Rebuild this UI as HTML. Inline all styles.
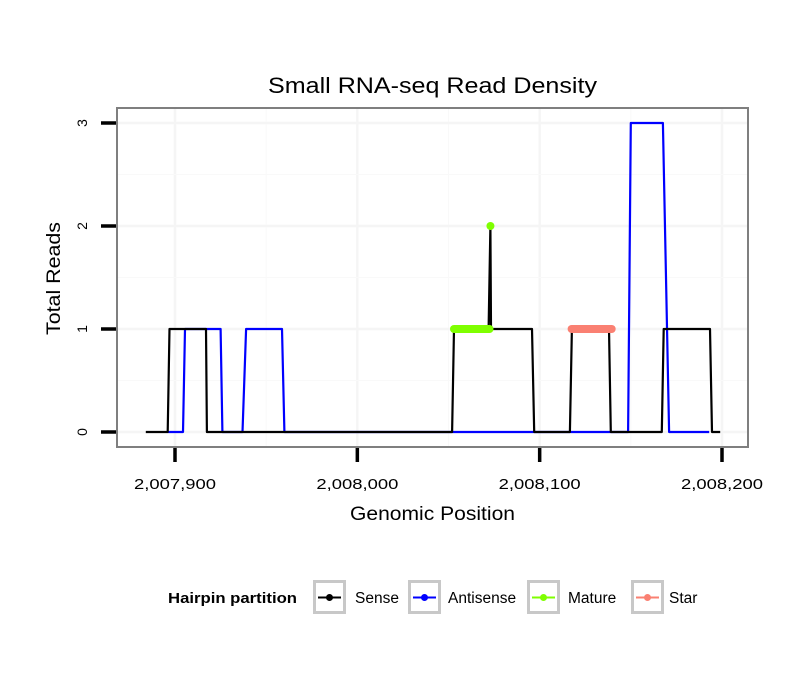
<!DOCTYPE html>
<html><head><meta charset="utf-8"><style>
body{margin:0;background:#fff;}
svg text{font-family:"Liberation Sans",sans-serif;}
</style></head><body>
<svg id="chart" width="810" height="690" xmlns="http://www.w3.org/2000/svg">
<rect width="810" height="690" fill="#fff"/>
<text x="268" y="93" font-size="22" textLength="329" lengthAdjust="spacingAndGlyphs">Small RNA-seq Read Density</text>
<g id="grid"></g>
<g id="series"></g>
<rect x="117" y="108" width="631" height="339" fill="none" stroke="#7f7f7f" stroke-width="2"/>
<g id="axes"></g>
<text x="350" y="520" font-size="19" textLength="165" lengthAdjust="spacingAndGlyphs">Genomic Position</text>
<text transform="translate(60,335) rotate(-90)" font-size="19" textLength="113" lengthAdjust="spacingAndGlyphs">Total Reads</text>
<g id="legend">
<text x="168" y="603" font-size="15" font-weight="bold" textLength="129" lengthAdjust="spacingAndGlyphs">Hairpin partition</text>
</g>
</svg>
<script>
const xTicks=[2007900,2008000,2008100,2008200];
const xTickLabels=["2,007,900","2,008,000","2,008,100","2,008,200"];
const yTicks=[0,1,2,3];
const senseX=[2007884,2007896,2007897,2007917,2007917.5,2008052,2008053,2008072,2008073,2008073.3,2008095.8,2008097,2008116.6,2008117.7,2008138,2008139,2008167,2008168,2008193.4,2008194.5,2008199];
const senseY=[0,0,1,1,0,0,1,1,2,1,1,0,0,1,1,0,0,1,1,0,0];
const antiX=[2007896,2007904.4,2007905.5,2007925,2007926,2007937,2007939,2007958.7,2007960,2008148.5,2008150,2008167.6,2008171,2008193];
const antiY=[0,0,1,1,0,0,1,1,0,0,3,3,0,0];
const matureX=[2008053,2008072.5];
const matureY=[1,1];
const maturePointX=[2008073];
const maturePointY=[2];
const starX=[2008117.5,2008139.5];
const starY=[1,1];
const legendLabels=["Sense","Antisense","Mature","Star"];
const legendColors=["#000000","#0000ff","#7fff00","#fa8072"];

const NS="http://www.w3.org/2000/svg";
const sx=v=>175+(v-2007900)*(547/300);
const sy=v=>432-v*103;
function mk(tag,attrs,parent){const e=document.createElementNS(NS,tag);for(const k in attrs)e.setAttribute(k,attrs[k]);parent.appendChild(e);return e;}
const grid=document.getElementById('grid'),series=document.getElementById('series'),axes=document.getElementById('axes'),legend=document.getElementById('legend');
[2007950,2008050,2008150].forEach(v=>{const l=mk('line',{x1:sx(v),x2:sx(v),y1:108,y2:447,stroke:'#f9f9f9','stroke-width':1},grid);});
xTicks.forEach(v=>{const l=mk('line',{x1:sx(v),x2:sx(v),y1:108,y2:447,stroke:'#f5f5f5','stroke-width':2.5},grid);});
[0.5,1.5,2.5].forEach(v=>{const l=mk('line',{x1:117,x2:748,y1:sy(v),y2:sy(v),stroke:'#f9f9f9','stroke-width':1},grid);});
yTicks.forEach(v=>{const l=mk('line',{x1:117,x2:748,y1:sy(v),y2:sy(v),stroke:'#f5f5f5','stroke-width':2.5},grid);});
function path(xs,ys,color,w,name,cap){const d=xs.map((x,i)=>(i?'L':'M')+sx(x).toFixed(1)+','+sy(ys[i]).toFixed(1)).join('');const p=mk('path',{d:d,fill:'none',stroke:color,'stroke-width':w,'stroke-linecap':cap||'butt','stroke-linejoin':'round'},series);}
path(antiX,antiY,'#0000ff',2.2,'antisense-line');
path(senseX,senseY,'#000000',2.2,'sense-line');
path(matureX,matureY,'#7fff00',8,'mature-line','round');
path(starX,starY,'#fa8072',8,'star-line','round');
maturePointX.forEach((x,i)=>{const c=mk('circle',{cx:sx(x),cy:sy(maturePointY[i]),r:4,fill:'#7fff00'},series);});
xTicks.forEach((v,i)=>{const t=mk('line',{x1:sx(v),x2:sx(v),y1:448,y2:462,stroke:'#000','stroke-width':3.5},axes);
const tx=mk('text',{x:sx(v)-41,y:489,'font-size':15,textLength:82,lengthAdjust:'spacingAndGlyphs'},axes);tx.textContent=xTickLabels[i];});
yTicks.forEach(v=>{const t=mk('line',{x1:101,x2:116,y1:sy(v),y2:sy(v),stroke:'#000','stroke-width':3.5},axes);
const tx=mk('text',{x:0,y:0,'text-anchor':'middle','font-size':14,transform:'translate(87,'+sy(v)+') rotate(-90)'},axes);tx.textContent=String(v);});
const boxX=[313,408,527,631],textX=[355,448,568,669];
legendLabels.forEach((lab,i)=>{const b=mk('rect',{x:boxX[i]+1.5,y:581.5,width:30,height:31,fill:'#fff',stroke:'#c8c8c8','stroke-width':3},legend);
const l=mk('line',{x1:boxX[i]+5,x2:boxX[i]+28,y1:597.5,y2:597.5,stroke:legendColors[i],'stroke-width':2},legend);
const c=mk('circle',{cx:boxX[i]+16.5,cy:597.5,r:3.5,fill:legendColors[i]},legend);
const t=mk('text',{x:textX[i],y:603,'font-size':15.5},legend);t.textContent=lab;});
</script>
</body></html>
